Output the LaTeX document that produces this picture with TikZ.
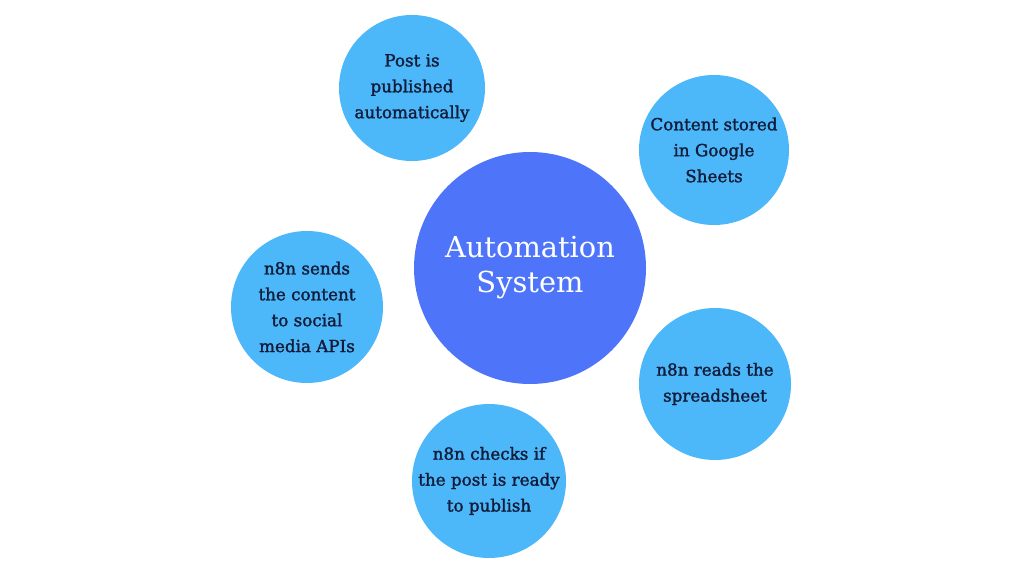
\documentclass[tikz,border=0pt]{standalone}
\usepackage{fontspec}
\setmainfont{DejaVu Serif}
\newfontfamily\leaffont[FakeBold=1.6]{DejaVu Serif}
\definecolor{lightblue}{HTML}{4CB8F9}
\definecolor{mainblue}{HTML}{4D74F9}
\definecolor{navy}{HTML}{121C3A}
\begin{document}
\begin{tikzpicture}[x=1bp,y=-1bp,
  hub/.style={circle, fill=mainblue, draw=none, minimum size=232bp, inner sep=0pt,
    text=white, align=center, font=\fontsize{29}{35}\selectfont},
  leaf/.style={circle, fill=lightblue, draw=none, inner sep=-15pt,
    text=navy, align=center, font=\leaffont\fontsize{16.8}{26}\selectfont}]
\useasboundingbox (0,0) rectangle (1024,576);
\fill[white] (0,0) rectangle (1024,576);
\node[hub] (hub) at (530,268) {Automation\\System};
\node[leaf, minimum size=146bp] (post) at (412,88) {Post is\\published\\automatically};
\node[leaf, minimum size=150bp] (stored) at (714,150) {Content stored\\in Google\\Sheets};
\node[leaf, minimum size=152bp] (sends) at (307,307) {n8n sends\\the content\\to social\\media APIs};
\node[leaf, minimum size=152bp] (reads) at (715,384) {n8n reads the\\spreadsheet};
\node[leaf, minimum size=154bp] (checks) at (489,481) {n8n checks if\\the post is ready\\to publish};
\end{tikzpicture}
\end{document}
